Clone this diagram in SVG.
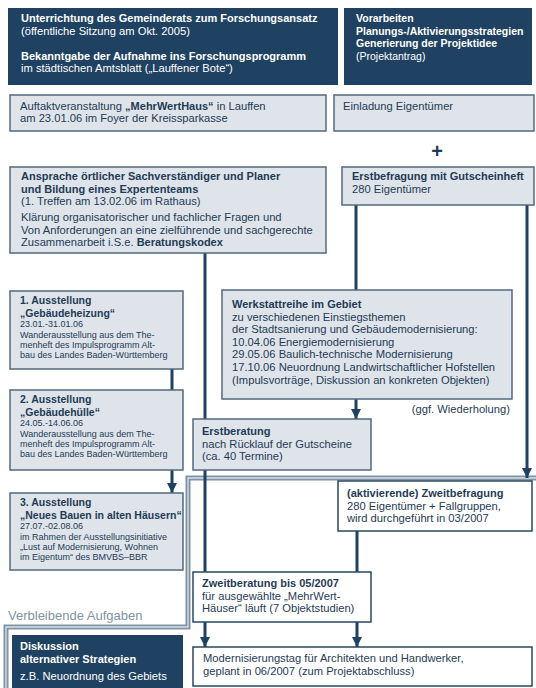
<svg xmlns="http://www.w3.org/2000/svg" width="536" height="688" viewBox="0 0 536 688">
<style>
text{font-family:"Liberation Sans",Arial,sans-serif;font-size:11.2px;fill:#1f3b56}
.w{fill:#fff}
.b{font-weight:bold;font-size:11px}
.t{font-weight:bold;font-size:10.5px}
.s{font-size:9px}
.dk{fill:#1f4262}
.lt{fill:#dee4ea;stroke:#526a7f;stroke-width:1.5}
.wt{fill:#fff;stroke:#2a4862;stroke-width:1.5}
.c{stroke:#1f4262;stroke-width:3;fill:none}
.g1{stroke:#7f93a7;stroke-width:5;fill:none}
.g2{stroke:#d8dfe6;stroke-width:1.3;fill:none}
.gt{fill:#7f93a7;font-size:13px}
</style>
<defs>
<marker id="ah" viewBox="0 0 10 10" refX="10" refY="5" markerWidth="10" markerHeight="10" markerUnits="userSpaceOnUse" orient="auto">
<path d="M0,0 L10,5 L0,10 z" fill="#1f4262"/>
</marker>
</defs>

<g id="region-remaining">
<path class="g1" d="M536 478 H188 V627 H6 V692"/>
<path class="g2" d="M536 478 H188 V627 H6 V692"/>
<text class="gt" x="8" y="620">Verbleibende Aufgaben</text>
</g>

<g id="connectors">
<path class="c" d="M356 205 V290"/>
<path class="c" d="M527 205 V478" marker-end="url(#ah)"/>
<path class="c" d="M205 253 V572"/>
<path class="c" d="M172 369 V390"/>
<path class="c" d="M172 470 V493" marker-end="url(#ah)"/>
<path class="c" d="M356 399 V419" marker-end="url(#ah)"/>
<path class="c" d="M357 531 V572"/>
<path class="c" d="M205 622 V647" marker-end="url(#ah)"/>
<path class="c" d="M357 622 V647" marker-end="url(#ah)"/>
</g>

<g id="unterrichtung">
<rect class="dk" x="8" y="8" width="330" height="77"/>
<text class="w b" x="21" y="22">Unterrichtung des Gemeinderats zum Forschungsansatz</text>
<text class="w" x="21" y="34.6">(öffentliche Sitzung am Okt. 2005)</text>
<text class="w b" x="21" y="59.8">Bekanntgabe der Aufnahme ins Forschungsprogramm</text>
<text class="w" x="21" y="72.4">im städtischen Amtsblatt („Lauffener Bote“)</text>
</g>

<g id="vorarbeiten">
<rect class="dk" x="344" y="8" width="188" height="77"/>
<text class="w t" x="356" y="22">Vorarbeiten</text>
<text class="w t" x="356" y="34.6">Planungs-/Aktivierungsstrategien</text>
<text class="w t" x="356" y="47.2">Generierung der Projektidee</text>
<text class="w" x="356" y="59.8" style="font-size:10.5px">(Projektantrag)</text>
</g>

<g id="auftakt">
<rect class="lt" x="10" y="95" width="316" height="36"/>
<text x="20" y="109.5">Auftaktveranstaltung <tspan class="b">„MehrWertHaus“</tspan> in Lauffen</text>
<text x="20" y="122">am 23.01.06 im Foyer der Kreissparkasse</text>
</g>

<g id="einladung">
<rect class="lt" x="334" y="95" width="200" height="36"/>
<text x="343" y="109.5">Einladung Eigentümer</text>
</g>

<g id="plus">
<text class="b" x="437" y="158" text-anchor="middle" style="font-size:20px">+</text>
</g>

<g id="ansprache">
<rect class="lt" x="10" y="167" width="316" height="86"/>
<text class="b" x="21" y="180">Ansprache örtlicher Sachverständiger und Planer</text>
<text class="b" x="21" y="192.5">und Bildung eines Expertenteams</text>
<text x="21" y="205">(1. Treffen am 13.02.06 im Rathaus)</text>
<text x="21" y="221">Klärung organisatorischer und fachlicher Fragen und</text>
<text x="21" y="233.5">Von Anforderungen an eine zielführende und sachgerechte</text>
<text x="21" y="246">Zusammenarbeit i.S.e. <tspan class="b">Beratungskodex</tspan></text>
</g>

<g id="erstbefragung">
<rect class="lt" x="342" y="167" width="192" height="38"/>
<text class="b" x="352" y="180">Erstbefragung mit Gutscheinheft</text>
<text x="352" y="193">280 Eigentümer</text>
</g>

<g id="ausstellung1">
<rect class="lt" x="10" y="291" width="173" height="78"/>
<text class="t" x="20" y="304">1. Ausstellung</text>
<text class="t" x="20" y="316.5">„Gebäudeheizung“</text>
<text class="s" x="20" y="327">23.01.-31.01.06</text>
<text class="s" x="20" y="337.5">Wanderausstellung aus dem The-</text>
<text class="s" x="20" y="347.5">menheft des Impulsprogramm Alt-</text>
<text class="s" x="20" y="357.5">bau des Landes Baden-Württemberg</text>
</g>

<g id="ausstellung2">
<rect class="lt" x="10" y="390" width="173" height="80"/>
<text class="t" x="20" y="403">2. Ausstellung</text>
<text class="t" x="20" y="415.5">„Gebäudehülle“</text>
<text class="s" x="20" y="426">24.05.-14.06.06</text>
<text class="s" x="20" y="436.5">Wanderausstellung aus dem The-</text>
<text class="s" x="20" y="446.5">menheft des Impulsprogramm Alt-</text>
<text class="s" x="20" y="456.5">bau des Landes Baden-Württemberg</text>
</g>

<g id="ausstellung3">
<rect class="lt" x="10" y="493" width="173" height="77"/>
<text class="t" x="20" y="506">3. Ausstellung</text>
<text class="t" x="20" y="518.5">„Neues Bauen in alten Häusern“</text>
<text class="s" x="20" y="529">27.07.-02.08.06</text>
<text class="s" x="20" y="539.5">im Rahmen der Ausstellungsinitiative</text>
<text class="s" x="20" y="549.5">„Lust auf Modernisierung, Wohnen</text>
<text class="s" x="20" y="559.5">im Eigentum“ des BMVBS–BBR</text>
</g>

<g id="werkstattreihe">
<rect class="lt" x="222" y="290" width="290" height="109"/>
<text class="b" x="232" y="308">Werkstattreihe im Gebiet</text>
<text x="232" y="320.6">zu verschiedenen Einstiegsthemen</text>
<text x="232" y="333.2">der Stadtsanierung und Gebäudemodernisierung:</text>
<text x="232" y="345.8">10.04.06 Energiemodernisierung</text>
<text x="232" y="358.4">29.05.06 Baulich-technische Modernisierung</text>
<text x="232" y="371">17.10.06 Neuordnung Landwirtschaftlicher Hofstellen</text>
<text x="232" y="383.6">(Impulsvorträge, Diskussion an konkreten Objekten)</text>
</g>

<g id="wiederholung">
<text x="510" y="413" text-anchor="end">(ggf. Wiederholung)</text>
</g>

<g id="erstberatung">
<rect class="lt" x="193" y="419" width="178" height="51"/>
<text class="b" x="202" y="435">Erstberatung</text>
<text x="202" y="447.6">nach Rücklauf der Gutscheine</text>
<text x="202" y="460.2">(ca. 40 Termine)</text>
</g>

<g id="zweitbefragung">
<rect class="wt" x="338" y="481" width="194" height="50"/>
<text class="b" x="347" y="497">(aktivierende) Zweitbefragung</text>
<text x="347" y="509.6">280 Eigentümer + Fallgruppen,</text>
<text x="347" y="522.2">wird durchgeführt in 03/2007</text>
</g>

<g id="zweitberatung">
<rect class="wt" x="193" y="572" width="178" height="50"/>
<text class="b" x="202" y="587">Zweitberatung bis 05/2007</text>
<text x="202" y="599.6">für ausgewählte „MehrWert-</text>
<text x="202" y="612.2">Häuser“ läuft (7 Objektstudien)</text>
</g>

<g id="modernisierungstag">
<rect class="wt" x="193" y="647" width="339" height="39"/>
<text x="203" y="662">Modernisierungstag für Architekten und Handwerker,</text>
<text x="203" y="675">geplant in 06/2007 (zum Projektabschluss)</text>
</g>

<g id="diskussion">
<rect class="dk" x="12" y="635" width="171" height="60"/>
<text class="w b" x="20" y="650">Diskussion</text>
<text class="w b" x="20" y="663">alternativer Strategien</text>
<text class="w" x="20" y="680">z.B. Neuordnung des Gebiets</text>
</g>
</svg>
